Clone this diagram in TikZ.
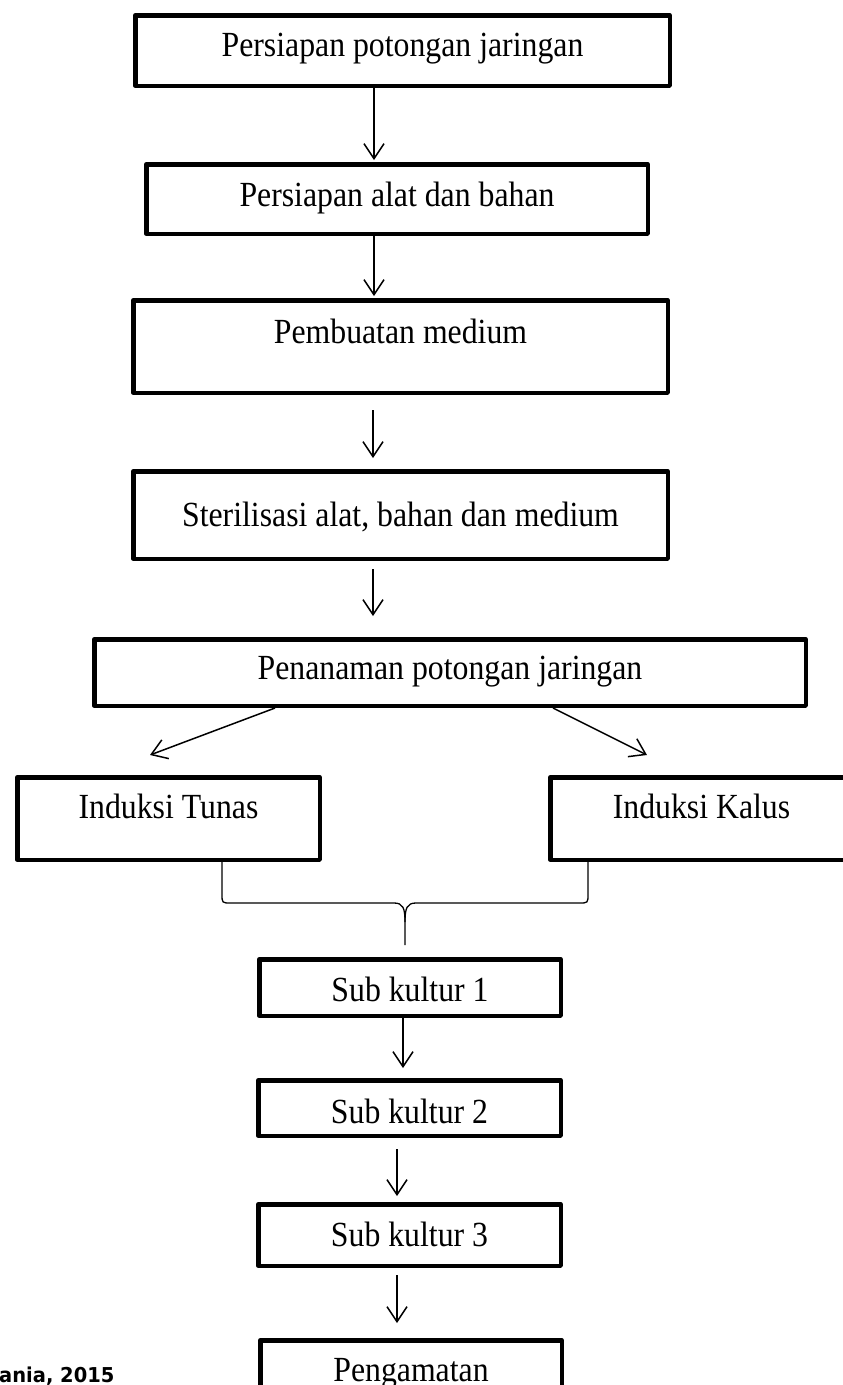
\documentclass[tikz,border=0pt]{standalone}
\usepackage{fontspec}
\setmainfont{Liberation Serif}[FakeStretch=0.9]
\newfontfamily\srcfont{DejaVu Sans}[FakeStretch=0.95]
\usetikzlibrary{arrows.meta}
\tikzset{
  stepbox/.style={draw, line width=4.5pt, line join=round, inner sep=0pt},
  txt/.style={anchor=base, inner sep=0pt, font=\fontsize{35.3}{40}\selectfont},
  arr/.style={line width=1.5pt, -{Straight Barb[length=15pt,width=20pt,line width=1.5pt]}},
  bracel/.style={line width=1.3pt},
}
\begin{document}
\begin{tikzpicture}[x=1pt,y=-1pt]
\useasboundingbox (0,0) rectangle (843,1385);
\clip (0,0) rectangle (843,1385);
% boxes
\node[stepbox, minimum width=534.5pt, minimum height=70.5pt] (b1) at (402.5,50.5) {};
\node[stepbox, minimum width=501.5pt, minimum height=69.5pt] (b2) at (397,199) {};
\node[stepbox, minimum width=534.5pt, minimum height=92.5pt] (b3) at (400.5,346.5) {};
\node[stepbox, minimum width=534.5pt, minimum height=87.5pt] (b4) at (400.5,515) {};
\node[stepbox, minimum width=711.5pt, minimum height=66.5pt] (pen) at (450,672.5) {};
\node[stepbox, minimum width=302.5pt, minimum height=82.5pt] (tun) at (168.5,818.5) {};
\node[stepbox, minimum width=302.5pt, minimum height=82.5pt] (kal) at (701.5,818.5) {};
\node[stepbox, minimum width=301.5pt, minimum height=56.5pt] (s1) at (410,987.5) {};
\node[stepbox, minimum width=302.5pt, minimum height=55.5pt] (s2) at (409.5,1108) {};
\node[stepbox, minimum width=302.5pt, minimum height=61.5pt] (s3) at (409.5,1235) {};
\node[stepbox, minimum width=301.5pt, minimum height=77.5pt] (peng) at (411,1379) {};
% texts
\node[txt] (t1) at (402.5,56) {Persiapan potongan jaringan};
\node[txt] (t2) at (397,206) {Persiapan alat dan bahan};
\node[txt] (t3) at (400.5,343) {Pembuatan medium};
\node[txt] (t4) at (400.5,526) {Sterilisasi alat, bahan dan medium};
\node[txt] (t5) at (450,679) {Penanaman potongan jaringan};
\node[txt] (t6) at (168.5,818) {Induksi Tunas};
\node[txt] (t7) at (701.5,818) {Induksi Kalus};
\node[txt] (t8) at (410,1001) {Sub kultur 1};
\node[txt] (t9) at (409.5,1123) {Sub kultur 2};
\node[txt] (t10) at (409.5,1246) {Sub kultur 3};
\node[txt] (t11) at (411,1381) {Pengamatan};
\node[anchor=base west, inner sep=0pt, font=\srcfont\bfseries\fontsize{20.5}{24}\selectfont] (src) at (-1,1382) {ania, 2015};
% arrows
\draw[arr, shorten >=2pt] (b1.south -| 374,0) -- (b2.north -| 374,0);
\draw[arr, shorten >=2pt] (b2.south -| 374,0) -- (b3.north -| 374,0);
\draw[arr, shorten <=15pt, shorten >=11pt] (b3.south -| 373,0) -- (b4.north -| 373,0);
\draw[arr, shorten <=8pt, shorten >=21pt] (b4.south -| 373,0) -- (pen.north -| 373,0);
\coordinate (tipL) at (150,755);
\coordinate (tipR) at (647,755);
\draw[arr] ([xshift=-175pt]pen.south) -- (tipL);
\draw[arr] ([xshift=103pt]pen.south) -- (tipR);
\draw[arr, shorten >=10pt] (s1.south -| 403,0) -- (s2.north -| 403,0);
\draw[arr, shorten <=11pt, shorten >=6pt] (s2.south -| 397,0) -- (s3.north -| 397,0);
\draw[arr, shorten <=7pt, shorten >=15pt] (s3.south -| 397,0) -- (peng.north -| 397,0);
% brace
\coordinate (bm) at (405,945);
\draw[bracel] ([xshift=53.5pt]tun.south) -- (222,894) .. controls (222,903) .. (231,903) -- (394,903)
  .. controls (403,903) and (405,908) .. (405,922) -- (bm);
\draw[bracel] ([xshift=-113.5pt]kal.south) -- (588,894) .. controls (588,903) .. (579,903) -- (416,903)
  .. controls (407,903) and (405,908) .. (405,922);
\end{tikzpicture}
\end{document}
